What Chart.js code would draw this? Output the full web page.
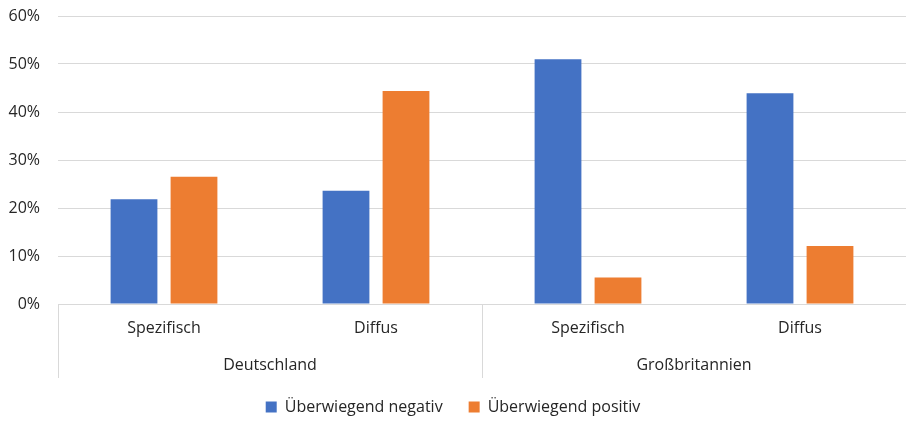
<!DOCTYPE html>
<html>
<head>
<meta charset="utf-8">
<script src="https://cdn.jsdelivr.net/npm/chart.js@4.4.1/dist/chart.umd.min.js"></script>
<style>
    body { margin: 0; background: #fff; }
    #wrap { width: 906px; height: 421px; }
</style>
</head>
<body>
<div id="wrap"><canvas id="chart"></canvas></div>
<script>
// Data
const subLabels = ['Spezifisch', 'Diffus', 'Spezifisch', 'Diffus'];
const countries = ['Deutschland', 'Großbritannien'];
const negativ = [21.8, 23.6, 51.0, 43.9];
const positiv = [26.5, 44.4, 5.5, 12.1];
const yTicks = [0, 10, 20, 30, 40, 50, 60];

const gridColor = '#d9d9d9';
const textColor = '#262626';
const fontFamily = '"Open Sans", sans-serif';
const fontSize = 16;

// Draws the vertical separators between the country groups under the axis
const groupLines = {
    id: 'groupLines',
    afterDraw(chart) {
        const x = chart.scales.x;
        const x2 = chart.scales.x2;
        const ctx = chart.ctx;
        const perGroup = subLabels.length / countries.length;
        const positions = [x.left];
        for (let g = 1; g < countries.length; g++) {
            positions.push((x.getPixelForValue(g * perGroup - 1) + x.getPixelForValue(g * perGroup)) / 2);
        }
        positions.push(x.right);
        ctx.save();
        ctx.strokeStyle = gridColor;
        ctx.lineWidth = 1;
        positions.forEach(px => {
            const p = Math.round(px) + 0.5;
            ctx.beginPath();
            ctx.moveTo(p, chart.chartArea.bottom);
            ctx.lineTo(p, x2.top + 24);
            ctx.stroke();
        });
        ctx.restore();
    }
};

new Chart(document.getElementById('chart'), {
    type: 'bar',
    data: {
        labels: subLabels,
        datasets: [
            {
                label: 'Überwiegend negativ',
                data: negativ,
                backgroundColor: '#4472C4',
                categoryPercentage: 0.566,
                barPercentage: 0.78
            },
            {
                label: 'Überwiegend positiv',
                data: positiv,
                backgroundColor: '#ED7D31',
                categoryPercentage: 0.566,
                barPercentage: 0.78
            }
        ]
    },
    options: {
        responsive: true,
        maintainAspectRatio: false,
        animation: false,
        layout: { padding: { top: 0, right: 0, left: 0, bottom: -4 } },
        plugins: {
            tooltip: { enabled: false },
            legend: {
                position: 'bottom',
                labels: {
                    boxWidth: 11,
                    boxHeight: 11,
                    padding: 26,
                    color: textColor,
                    font: { family: fontFamily, size: fontSize }
                }
            }
        },
        scales: {
            y: {
                min: 0,
                max: 60,
                afterBuildTicks(scale) {
                    scale.ticks = yTicks.map(v => ({ value: v }));
                },
                afterFit(scale) {
                    scale.width = 58;
                    scale.paddingTop = 16;
                },
                grid: { color: gridColor, drawTicks: false },
                border: { display: false },
                ticks: {
                    padding: 18,
                    color: textColor,
                    font: { family: fontFamily, size: fontSize },
                    callback: v => v + '%'
                }
            },
            x: {
                afterFit(scale) {
                    scale.height = 50;
                },
                grid: { display: false, drawTicks: false },
                border: { color: gridColor },
                ticks: {
                    padding: 15,
                    color: textColor,
                    font: { family: fontFamily, size: fontSize }
                }
            },
            x2: {
                type: 'category',
                labels: countries,
                position: 'bottom',
                afterFit(scale) {
                    scale.height = 19;
                },
                grid: { display: false, drawTicks: false },
                border: { display: false },
                ticks: {
                    padding: 2,
                    color: textColor,
                    font: { family: fontFamily, size: fontSize }
                }
            }
        }
    },
    plugins: [groupLines]
});
</script>
</body>
</html>
